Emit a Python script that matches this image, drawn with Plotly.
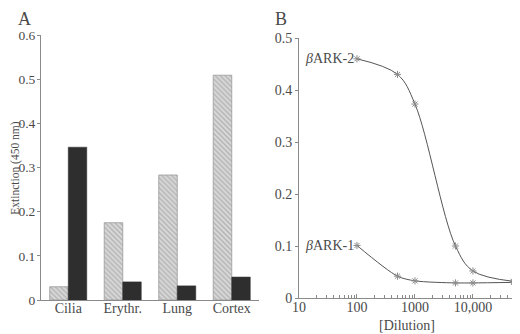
import math
import plotly.graph_objects as go
from plotly.subplots import make_subplots

# Panel A data
tissues = ["Cilia", "Erythr.", "Lung", "Cortex"]
ark2_extinction = [0.030, 0.175, 0.283, 0.509]
ark1_extinction = [0.346, 0.041, 0.032, 0.052]

# Panel B data
dilution = [100, 500, 1000, 5000, 10000, 50000]
ark2_curve = [0.460, 0.430, 0.373, 0.100, 0.052, 0.032]
ark1_curve = [0.101, 0.042, 0.033, 0.029, 0.029, 0.030]

a_yticks = [0, 0.1, 0.2, 0.3, 0.4, 0.5, 0.6]
a_yticklabels = ["0", "0.1", "0.2", "0.3", "0.4", "0.5", "0.6"]
b_yticks = [0, 0.1, 0.2, 0.3, 0.4, 0.5]
b_yticklabels = ["0", "0.1", "0.2", "0.3", "0.4", "0.5"]
b_xticks = [10, 100, 1000, 10000]
b_xticklabels = ["10", "100", "1000", "10,000"]

FONT = "Liberation Serif"
AX = "#8a8a8a"
TXT = "#4a4a4a"
FS = 14

W, H = 520, 334
OFF = 8  # page body offset of the plot div


def fx(a, b):
    return [(a - OFF) / W, (b - OFF) / W]


def fy(top, bottom):
    return [(H - (bottom - OFF)) / H, (H - (top - OFF)) / H]


def px(x):
    return (x - OFF) / W


def py(y):
    return 1 - (y - OFF) / H


fig = make_subplots(rows=1, cols=2)

fig.add_trace(go.Bar(
    x=tissues, y=ark2_extinction,
    marker=dict(color="#d8d8d8",
                pattern=dict(shape="\\", fgcolor="#8a8a8a", bgcolor="#d9d9d9", size=3.5, solidity=0.4),
                line=dict(color="#999999", width=0.8)),
    showlegend=False), row=1, col=1)
fig.add_trace(go.Bar(
    x=tissues, y=ark1_extinction,
    marker=dict(color="#2e2e2e", line=dict(color="#2e2e2e", width=0.5)),
    showlegend=False), row=1, col=1)

fig.add_trace(go.Scatter(
    x=dilution, y=ark2_curve, mode="lines+markers", cliponaxis=False,
    line=dict(color="#555555", width=1, shape="spline", smoothing=1.0),
    marker=dict(symbol="asterisk-open", size=6, color="#8c8c8c", line=dict(width=1, color="#8c8c8c")),
    showlegend=False), row=1, col=2)
fig.add_trace(go.Scatter(
    x=dilution, y=ark1_curve, mode="lines+markers", cliponaxis=False,
    line=dict(color="#555555", width=1, shape="spline", smoothing=0.8),
    marker=dict(symbol="asterisk-open", size=6, color="#8c8c8c", line=dict(width=1, color="#8c8c8c")),
    showlegend=False), row=1, col=2)

fig.update_layout(
    width=W, height=H,
    margin=dict(l=0, r=0, t=0, b=0),
    paper_bgcolor="white", plot_bgcolor="white",
    font=dict(family=FONT, size=FS, color=TXT),
    barmode="group", bargap=0.32, bargroupgap=0,
    xaxis=dict(domain=fx(41, 259), showline=True, linecolor=AX, linewidth=1, automargin=False,
               ticks="", showgrid=False, zeroline=False, ticklabelstandoff=-5,
               tickfont=dict(family=FONT, size=FS, color=TXT)),
    yaxis=dict(domain=fy(35, 300), range=[0, 0.6], showline=True, linecolor=AX, linewidth=1, automargin=False,
               ticks="outside", ticklen=3, tickcolor=AX, showgrid=False, zeroline=False,
               ticklabelstandoff=-1,
               tickvals=a_yticks, ticktext=a_yticklabels,
               tickfont=dict(family=FONT, size=13.5, color=TXT)),
    xaxis2=dict(domain=fx(299, 517), type="log", range=[1, 4.76], showline=True, linecolor=AX, linewidth=1,
                automargin=False,
                ticks="inside", ticklen=4, tickcolor=AX, showgrid=False, zeroline=False,
                ticklabelstandoff=-4,
                tickvals=b_xticks, ticktext=b_xticklabels,
                minor=dict(ticks="inside", ticklen=3, tickcolor=AX, dtick="D1", showgrid=False),
                tickfont=dict(family=FONT, size=FS, color=TXT)),
    yaxis2=dict(domain=fy(38, 298), range=[0, 0.5], showline=True, linecolor=AX, linewidth=1, automargin=False,
                ticks="outside", ticklen=3, tickcolor=AX, showgrid=False, zeroline=False,
                ticklabelstandoff=0,
                tickvals=b_yticks, ticktext=b_yticklabels,
                tickfont=dict(family=FONT, size=FS, color=TXT)),
)

# axis titles
fig.add_annotation(x=6.7 / W, y=py(168), xref="paper", yref="paper", xanchor="center", yanchor="middle",
                   text="Extinction (450 nm)", textangle=-90, showarrow=False, borderpad=0,
                   font=dict(family=FONT, size=11.5, color=TXT))
fig.add_annotation(x=px(407), y=py(325), xref="paper", yref="paper", xanchor="center", yanchor="middle",
                   text="[Dilution]", showarrow=False,
                   font=dict(family=FONT, size=14, color=TXT))

# series labels
fig.add_annotation(x=math.log10(dilution[0]), y=ark2_curve[0], xref="x2", yref="y2",
                   xanchor="right", yanchor="middle",
                   text="<i>β</i>ARK-2", showarrow=False, xshift=-1,
                   font=dict(family=FONT, size=FS, color=TXT))
fig.add_annotation(x=math.log10(dilution[0]), y=ark1_curve[0], xref="x2", yref="y2",
                   xanchor="right", yanchor="middle",
                   text="<i>β</i>ARK-1", showarrow=False, xshift=-1,
                   font=dict(family=FONT, size=FS, color=TXT))

# panel letters
fig.add_annotation(x=px(17), y=1, xref="paper", yref="paper", xanchor="left", yanchor="top",
                   text="A", showarrow=False, borderpad=0, font=dict(family=FONT, size=18, color=TXT))
fig.add_annotation(x=px(274), y=1, xref="paper", yref="paper", xanchor="left", yanchor="top",
                   text="B", showarrow=False, borderpad=0, font=dict(family=FONT, size=18, color=TXT))

fig.write_html("out.html")
